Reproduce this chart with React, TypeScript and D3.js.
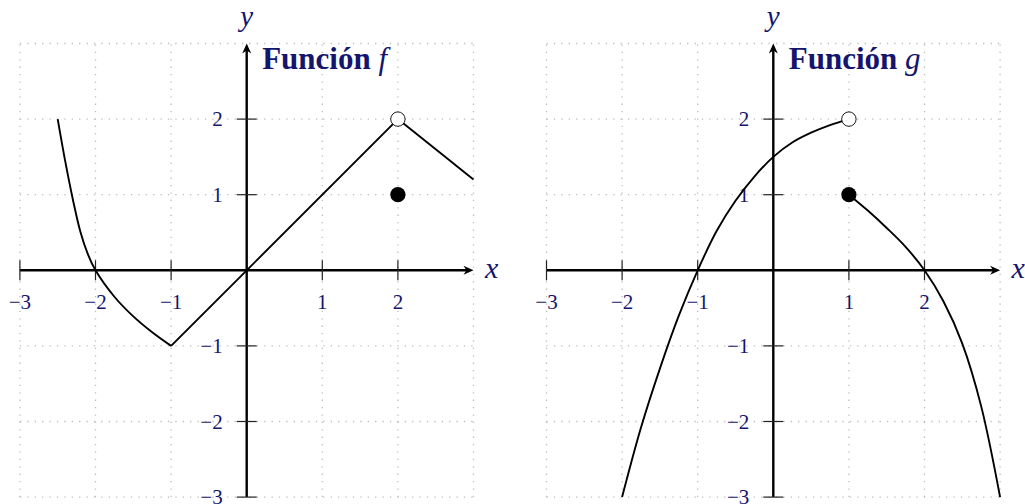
import React from "react";
import * as d3 from "d3";

type Pt = [number, number];

const xTicks = [-3, -2, -1, 1, 2];
const yTicks = [-3, -2, -1, 1, 2];
const gridVals = [-3, -2, -1, 0, 1, 2, 3];

// Función f
const fLeft: Pt[] = [
  [-2.5, 2], [-2.4, 1.44], [-2.3, 0.94], [-2.2, 0.51], [-2.1, 0.21], [-2, 0],
  [-1.75, -0.35], [-1.5, -0.61], [-1.25, -0.82], [-1, -1],
];
const fMiddle: Pt[] = [[-1, -1], [0, 0], [2, 2]];
const fRight: Pt[] = [[2, 2], [3, 1.2]];
const fOpen: Pt[] = [[2, 2]];
const fFilled: Pt[] = [[2, 1]];

// Función g
const gLeft: Pt[] = [
  [-2, -3], [-1.75, -2.08], [-1.5, -1.3], [-1.25, -0.6], [-1, 0], [-0.75, 0.52],
  [-0.5, 0.92], [-0.25, 1.24], [0, 1.5], [0.25, 1.69], [0.5, 1.82], [0.75, 1.92], [1, 2],
];
const gRight: Pt[] = [
  [1, 1], [1.25, 0.79], [1.5, 0.56], [1.75, 0.31], [2, 0], [2.25, -0.41],
  [2.5, -0.97], [2.75, -1.8], [3, -3],
];
const gOpen: Pt[] = [[1, 2]];
const gFilled: Pt[] = [[1, 1]];

const UNIT = 75.6;
const ORIGIN_Y = 270.3;
const TEXT = "#15156e";
const SERIF = "'Liberation Serif', 'DejaVu Serif', serif";

interface PanelProps {
  ox: number;
  name: string;
  curved: Pt[][];
  straight: Pt[][];
  openPts: Pt[];
  filledPts: Pt[];
}

function Panel({ ox, name, curved, straight, openPts, filledPts }: PanelProps) {
  const x = d3.scaleLinear().domain([-3, 3]).range([ox - 3 * UNIT, ox + 3 * UNIT]);
  const y = d3.scaleLinear().domain([-3, 3]).range([ORIGIN_Y + 3 * UNIT, ORIGIN_Y - 3 * UNIT]);
  const smooth = d3
    .line<Pt>()
    .x((d) => x(d[0]))
    .y((d) => y(d[1]))
    .curve(d3.curveCatmullRom.alpha(0.5));
  const poly = d3
    .line<Pt>()
    .x((d) => x(d[0]))
    .y((d) => y(d[1]));
  const x0 = x(0);
  const y0 = y(0);
  const xEnd = x(3);
  const yTop = y(3);
  const fmt = (v: number) => (v < 0 ? "\u2212" + Math.abs(v) : String(v));
  return (
    <g>
      {gridVals.map((v) => (
        <line key={"gx" + v} x1={x(v)} x2={x(v)} y1={y(-3)} y2={y(3)}
          stroke="#bdbdbd" strokeWidth={1.3} strokeDasharray="1.3 6.1" />
      ))}
      {gridVals.map((v) => (
        <line key={"gy" + v} x1={x(-3)} x2={x(3)} y1={y(v)} y2={y(v)}
          stroke="#bdbdbd" strokeWidth={1.3} strokeDasharray="1.3 6.1" />
      ))}
      <line x1={x(-3)} x2={xEnd - 5} y1={y0} y2={y0} stroke="#000" strokeWidth={2.4} />
      <path d={`M${xEnd},${y0} L${xEnd - 10},${y0 - 4.5} L${xEnd - 7},${y0} L${xEnd - 10},${y0 + 4.5} Z`} fill="#000" />
      <line x1={x0} x2={x0} y1={y(-3)} y2={yTop + 5} stroke="#000" strokeWidth={2.4} />
      <path d={`M${x0},${yTop} L${x0 - 4.5},${yTop + 10} L${x0},${yTop + 7} L${x0 + 4.5},${yTop + 10} Z`} fill="#000" />
      {xTicks.map((v) => (
        <g key={"xt" + v}>
          <line x1={x(v)} x2={x(v)} y1={y0 - 10} y2={y0 + 10} stroke="#222" strokeWidth={1.2} />
          <text x={x(v)} y={y0 + 38.5} textAnchor="middle" fontFamily={SERIF} fontSize={21} fill={TEXT}>
            {fmt(v)}
          </text>
        </g>
      ))}
      {yTicks.map((v) => (
        <g key={"yt" + v}>
          <line x1={x0 - 10} x2={x0 + 10} y1={y(v)} y2={y(v)} stroke="#222" strokeWidth={1.2} />
          <text x={x0 - 24} y={y(v) + 7} textAnchor="end" fontFamily={SERIF} fontSize={21} fill={TEXT}>
            {fmt(v)}
          </text>
        </g>
      ))}
      <text x={xEnd + 11.5} y={y0 + 8} fontFamily={SERIF} fontStyle="italic" fontSize={30} fill={TEXT}>x</text>
      <text x={x0} y={25.5} textAnchor="middle" fontFamily={SERIF} fontStyle="italic" fontSize={29} fill={TEXT}>y</text>
      {curved.map((p, i) => (
        <path key={"c" + i} d={smooth(p) || ""} fill="none" stroke="#000" strokeWidth={1.9} />
      ))}
      {straight.map((p, i) => (
        <path key={"s" + i} d={poly(p) || ""} fill="none" stroke="#000" strokeWidth={1.9} />
      ))}
      {openPts.map((p, i) => (
        <circle key={"o" + i} cx={x(p[0])} cy={y(p[1])} r={7.2} fill="#fff" stroke="#000" strokeWidth={0.9} />
      ))}
      {filledPts.map((p, i) => (
        <circle key={"f" + i} cx={x(p[0])} cy={y(p[1])} r={7.6} fill="#000" />
      ))}
      <text x={x0 + 15.5} y={69} fontFamily={SERIF} fontSize={31} fill={TEXT}>
        <tspan fontWeight="bold">Función </tspan>
        <tspan fontStyle="italic">{name}</tspan>
      </text>
    </g>
  );
}

export default function App() {
  return (
    <svg width={1025} height={504} style={{ position: "absolute", left: 0, top: 0, background: "#fff" }}>
      <rect width={1025} height={504} fill="#fff" />
      <Panel ox={246.7} name="f" curved={[fLeft]} straight={[fMiddle, fRight]} openPts={fOpen} filledPts={fFilled} />
      <Panel ox={773.3} name="g" curved={[gLeft, gRight]} straight={[]} openPts={gOpen} filledPts={gFilled} />
    </svg>
  );
}
